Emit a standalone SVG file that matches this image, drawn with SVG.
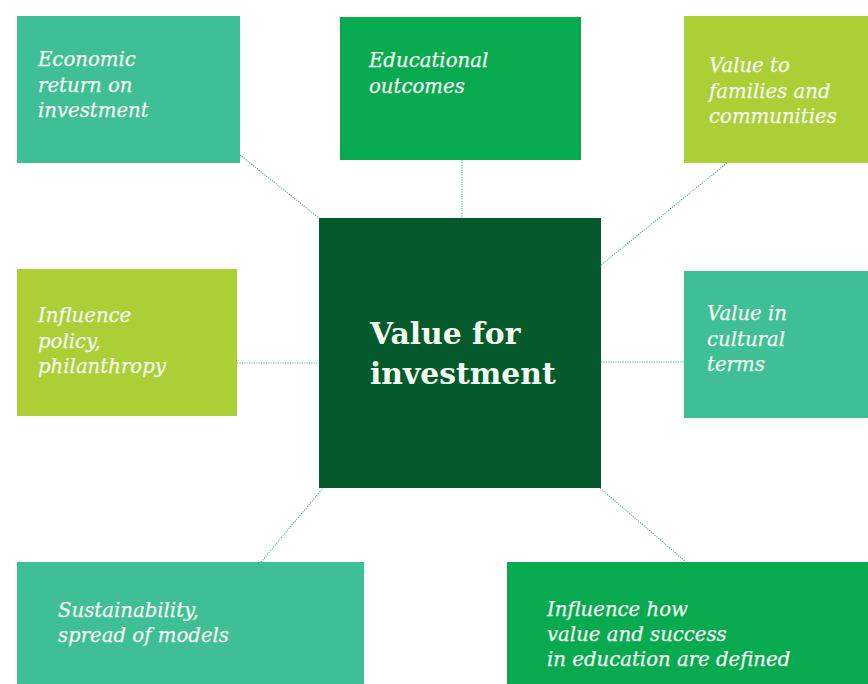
<svg xmlns="http://www.w3.org/2000/svg" width="868" height="684" viewBox="0 0 868 684">
<style>
.lbl{font-family:"DejaVu Serif","Liberation Serif",serif;font-style:italic;font-size:19.7px;fill:#f4faf2;stroke:#f4faf2;stroke-width:0.25}
.ctr{font-family:"DejaVu Serif","Liberation Serif",serif;font-weight:bold;font-size:29.8px;fill:#f4faf2}
.con{stroke:#3cbb8c;stroke-width:1.1;stroke-dasharray:1.2 1.2;fill:none}
.teal{fill:#3fbf95}.green{fill:#08aa4f}.lime{fill:#accf36}.dark{fill:#045a2a}
</style>
<rect width="868" height="684" fill="#ffffff"/>
<g id="connectors">
<line class="con" x1="240" y1="155" x2="319" y2="218"/>
<line class="con" x1="462" y1="160" x2="462" y2="218"/>
<line class="con" x1="727" y1="163" x2="601" y2="265"/>
<line class="con" x1="237" y1="363" x2="319" y2="363"/>
<line class="con" x1="601" y1="362" x2="684" y2="362"/>
<line class="con" x1="261" y1="562" x2="323" y2="488"/>
<line class="con" x1="600" y1="488" x2="686" y2="562"/>
</g>
<g id="economic">
<rect class="teal" x="17" y="16" width="223" height="147"/>
<text class="lbl"><tspan x="38" y="66">Economic</tspan><tspan x="38" y="91.5">return on</tspan><tspan x="38" y="117">investment</tspan></text>
</g>
<g id="educational">
<rect class="green" x="340" y="17" width="241" height="143"/>
<text class="lbl"><tspan x="369" y="67">Educational</tspan><tspan x="369" y="92.5">outcomes</tspan></text>
</g>
<g id="families">
<rect class="lime" x="684" y="16" width="184" height="147"/>
<text class="lbl"><tspan x="709" y="72">Value to</tspan><tspan x="709" y="97.5">families and</tspan><tspan x="709" y="123">communities</tspan></text>
</g>
<g id="center">
<rect class="dark" x="319" y="218" width="282" height="270"/>
<text class="ctr"><tspan x="370" y="344">Value for</tspan><tspan x="370" y="384">investment</tspan></text>
</g>
<g id="policy">
<rect class="lime" x="17" y="269" width="220" height="147"/>
<text class="lbl"><tspan x="38" y="322">Influence</tspan><tspan x="38" y="347.5">policy,</tspan><tspan x="38" y="373">philanthropy</tspan></text>
</g>
<g id="cultural">
<rect class="teal" x="684" y="271" width="184" height="147"/>
<text class="lbl"><tspan x="707" y="320">Value in</tspan><tspan x="707" y="345.5">cultural</tspan><tspan x="707" y="371">terms</tspan></text>
</g>
<g id="sustainability">
<rect class="teal" x="17" y="562" width="347" height="122"/>
<text class="lbl"><tspan x="58" y="617">Sustainability,</tspan><tspan x="58" y="642">spread of models</tspan></text>
</g>
<g id="influence-how">
<rect class="green" x="507" y="562" width="361" height="122"/>
<text class="lbl"><tspan x="547" y="616">Influence how</tspan><tspan x="547" y="641">value and success</tspan><tspan x="547" y="666">in education are defined</tspan></text>
</g>
</svg>
